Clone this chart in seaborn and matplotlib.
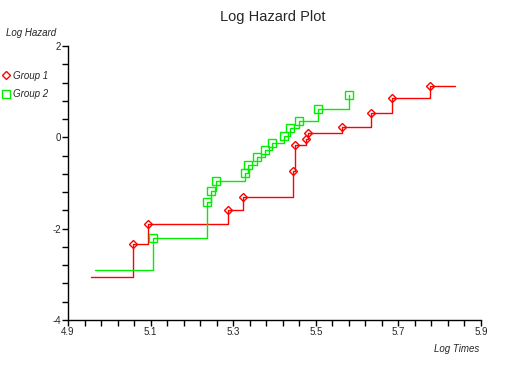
#!/usr/bin/env python3

import numpy as np
import pandas as pd
import matplotlib
matplotlib.use("Agg")
import matplotlib.pyplot as plt
from matplotlib.lines import Line2D
from matplotlib.ticker import MultipleLocator, FixedLocator
import seaborn as sns

# values
group1_start = (4.956, -3.065)
group1_end_x = 5.836
group1_x = [5.057, 5.093, 5.288, 5.323, 5.445, 5.450, 5.476, 5.480,
            5.563, 5.633, 5.685, 5.776]
group1_y = [-2.33, -1.905, -1.60, -1.313, -0.744, -0.16, -0.03, 0.095,
            0.233, 0.526, 0.868, 1.124]

group2_start = (4.965, -2.91)
group2_x = [5.107, 5.237, 5.247, 5.258, 5.329, 5.337, 5.357, 5.376,
            5.394, 5.424, 5.438, 5.459, 5.505, 5.580]
group2_y = [-2.198, -1.42, -1.175, -0.956, -0.775, -0.60, -0.437, -0.277,
            -0.131, 0.036, 0.197, 0.364, 0.613, 0.927]

x_ticks = [4.9, 5.1, 5.3, 5.5, 5.7, 5.9]
y_ticks = [-4, -2, 0, 2]

RED = "#ff0000"
GREEN = "#00ee00"


def plot_log_hazard():
    sns.set_style("white")
    plt.rcParams["font.family"] = ["Liberation Sans", "DejaVu Sans"]
    plt.rcParams["axes.unicode_minus"] = False

    fig = plt.figure(figsize=(5.17, 3.65), dpi=100)
    ax = fig.add_axes([68 / 517, 1 - 320 / 365, 413 / 517, 274 / 365])

    line1 = pd.DataFrame({
        "x": [group1_start[0]] + group1_x + [group1_end_x],
        "y": [group1_start[1]] + group1_y + [group1_y[-1]],
    })
    line2 = pd.DataFrame({
        "x": [group2_start[0]] + group2_x,
        "y": [group2_start[1]] + group2_y,
    })

    sns.lineplot(data=line1, x="x", y="y", drawstyle="steps-post",
                 color=RED, lw=1, sort=False, estimator=None, ax=ax)
    sns.lineplot(data=line2, x="x", y="y", drawstyle="steps-post",
                 color=GREEN, lw=1, sort=False, estimator=None, ax=ax)

    ax.plot(group1_x, group1_y, ls="none", marker="D", ms=3.6,
            mfc="none", mec=RED, mew=1)
    ax.plot(group2_x, group2_y, ls="none", marker="s", ms=5.5,
            mfc="none", mec=GREEN, mew=1)

    ax.set_xlim(4.9, 5.9)
    ax.set_ylim(-4, 2)
    ax.xaxis.set_major_locator(FixedLocator(x_ticks))
    ax.xaxis.set_minor_locator(MultipleLocator(0.04, offset=0.02))
    ax.yaxis.set_major_locator(FixedLocator(y_ticks))
    ax.yaxis.set_minor_locator(MultipleLocator(0.4))
    ax.set_xticklabels([f"{v:.1f}" for v in x_ticks])
    ax.set_yticklabels([str(v) for v in y_ticks])
    ax.tick_params(which="both", direction="out", length=4, width=1,
                   color="black", labelsize=7, bottom=True, left=True)
    ax.tick_params(axis="x", pad=1)
    ax.tick_params(axis="y", pad=1)
    ax.set_xlabel("")
    ax.set_ylabel("")
    for side in ["top", "right"]:
        ax.spines[side].set_visible(False)
    for side in ["left", "bottom"]:
        ax.spines[side].set_color("black")
        ax.spines[side].set_linewidth(1)

    fig.text(273 / 517, 1 - 17 / 365, "Log Hazard Plot", ha="center",
             va="center", fontsize=10.5)
    fig.text(6 / 517, 1 - 33 / 365, "Log Hazard", ha="left", va="center",
             fontsize=7, style="italic")
    fig.text(479 / 517, 1 - 349 / 365, "Log Times", ha="right",
             va="center", fontsize=7, style="italic")

    handles = [
        Line2D([], [], ls="none", marker="D", ms=3.6, mfc="none",
               mec=RED, label="Group 1"),
        Line2D([], [], ls="none", marker="s", ms=5.5, mfc="none",
               mec=GREEN, label="Group 2"),
    ]
    leg = fig.legend(handles=handles, loc="upper left",
                     bbox_to_anchor=(-0.004, 1 - 67 / 365), frameon=False,
                     fontsize=7, handlelength=0.8, handletextpad=0.4,
                     labelspacing=0.85, borderaxespad=0)
    for t in leg.get_texts():
        t.set_style("italic")

    fig.savefig("out.png", dpi=100)


if __name__ == "__main__":
    plot_log_hazard()
